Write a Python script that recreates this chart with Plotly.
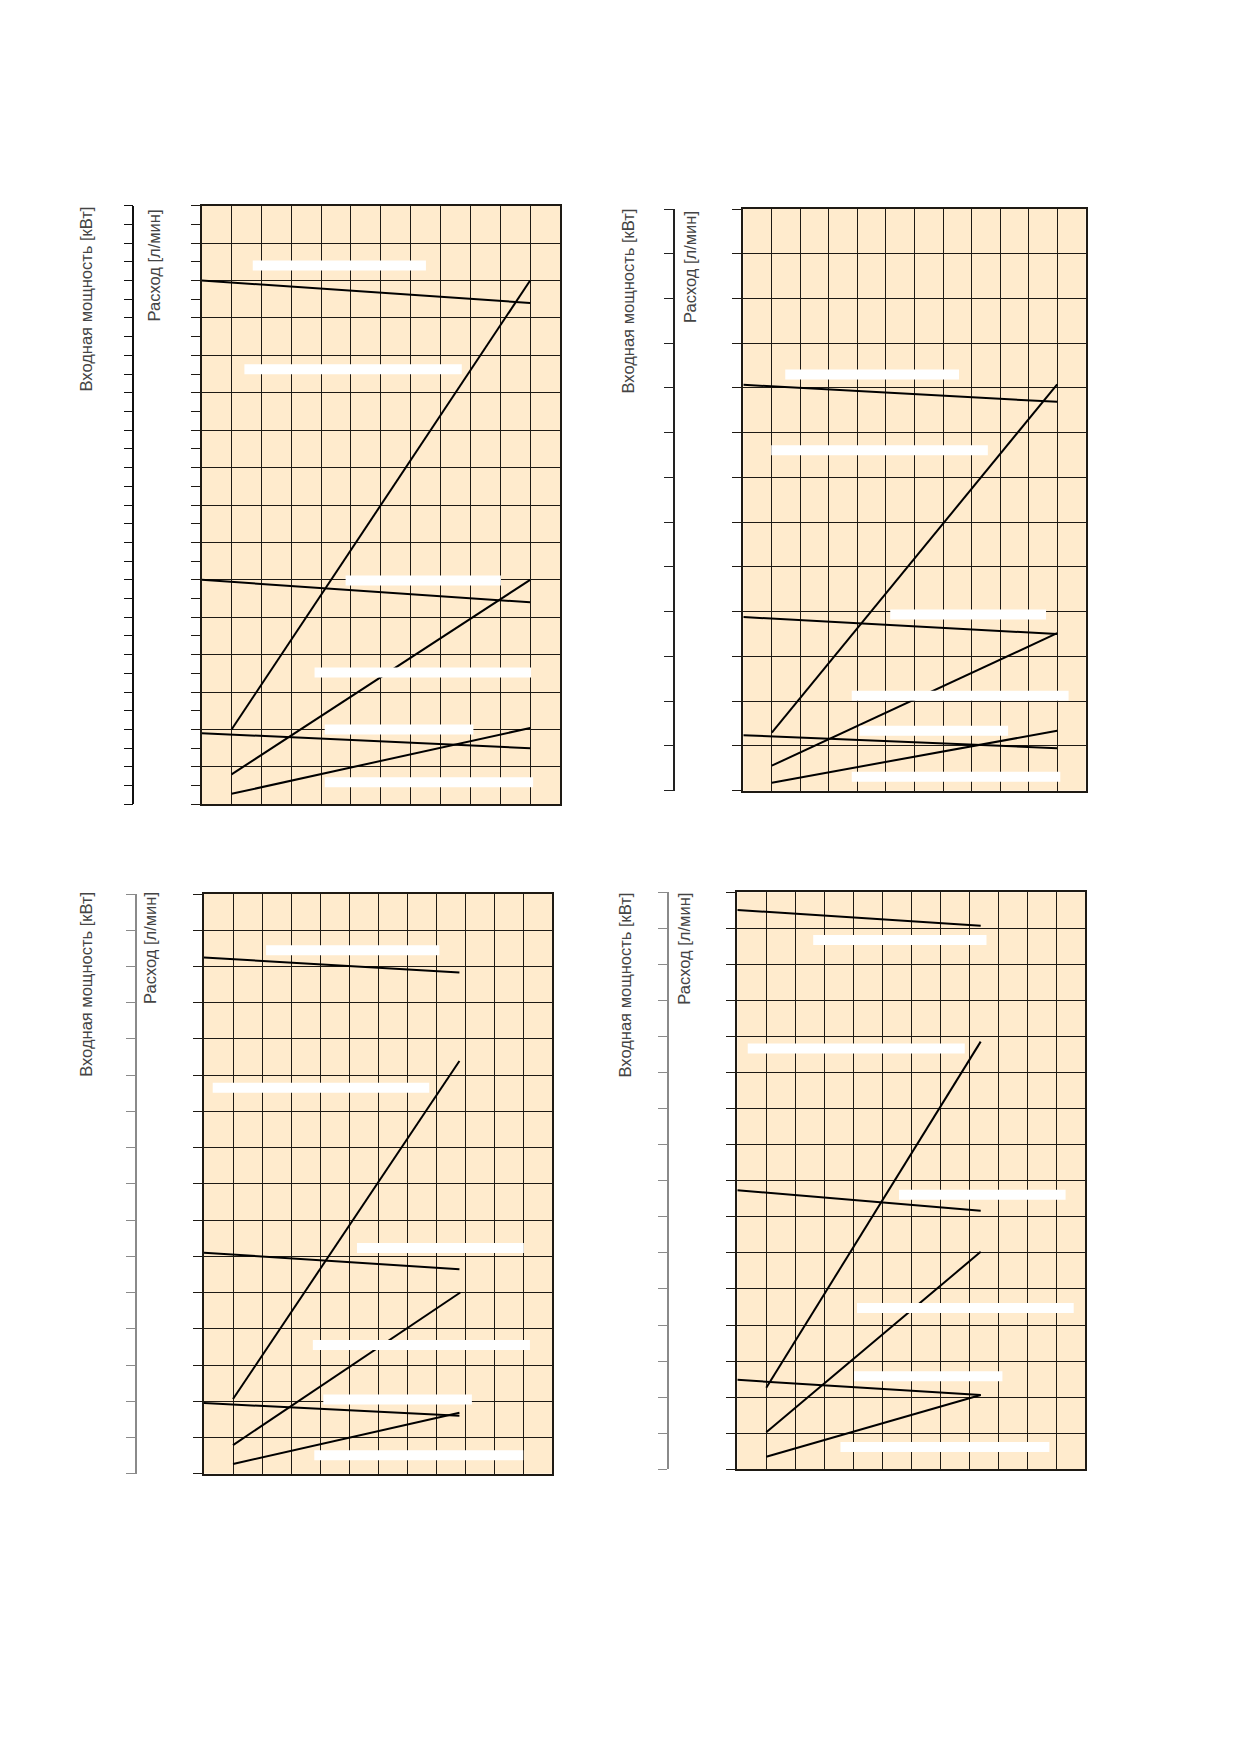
import plotly.graph_objects as go

# the page body keeps an 8px margin, so the figure is drawn 8px in from the window corner
OFF = 8
W, H = 1239 - 2 * OFF, 1752 - 2 * OFF

title_power = 'Входная мощность [кВт]'
title_flow = 'Расход [л/мин]'

# top left chart, grid 12 x 16
tl_x_start = [0, 1, 0, 1, 0, 1]
tl_y_start = [14.0, 2.0, 6.0, 0.8, 1.9, 0.28]
tl_x_end = [11, 11, 11, 11, 11, 11]
tl_y_end = [13.4, 14.0, 5.4, 6.0, 1.5, 2.04]
tl_mask_x0 = [1.71, 1.43, 4.82, 3.78, 4.12, 4.12]
tl_mask_x1 = [7.51, 8.71, 10.02, 11.03, 9.10, 11.1]
tl_mask_y = [14.4, 11.63, 5.98, 3.52, 2.0, 0.59]

# top right chart, grid 12 x 13
tr_x_start = [0, 1, 0, 1, 0, 1]
tr_y_start = [9.07, 1.3, 3.88, 0.56, 1.24, 0.18]
tr_x_end = [11, 11, 11, 11, 11, 11]
tr_y_end = [8.69, 9.08, 3.5, 3.52, 0.95, 1.34]
tr_mask_x0 = [1.47, 0.98, 5.15, 3.80, 4.07, 3.80]
tr_mask_x1 = [7.56, 8.57, 10.61, 11.40, 9.28, 11.11]
tr_mask_y = [9.30, 7.61, 3.94, 2.12, 1.34, 0.31]

# bottom left chart, grid 12 x 16
bl_x_start = [0, 1, 0, 1, 0, 1]
bl_y_start = [14.25, 2.06, 6.1, 0.79, 1.95, 0.27]
bl_x_end = [8.8, 8.8, 8.8, 8.83, 8.8, 8.8]
bl_y_end = [13.83, 11.39, 5.64, 5.0, 1.60, 1.68]
bl_mask_x0 = [2.14, 0.30, 5.27, 3.75, 4.11, 3.80]
bl_mask_x1 = [8.11, 7.76, 11.02, 11.23, 9.23, 11.0]
bl_mask_y = [14.45, 10.65, 6.23, 3.55, 2.05, 0.51]

# bottom right chart, grid 12 x 16
br_x_start = [0, 1, 0, 1, 0, 1]
br_y_start = [15.51, 2.26, 7.74, 1.03, 2.48, 0.35]
br_x_end = [8.4, 8.4, 8.4, 8.4, 8.4, 8.4]
br_y_end = [15.07, 11.86, 7.17, 6.03, 2.06, 2.06]
br_mask_x0 = [2.62, 0.36, 5.58, 4.13, 4.03, 3.56]
br_mask_x1 = [8.60, 7.85, 11.33, 11.61, 9.15, 10.77]
br_mask_y = [14.68, 11.67, 7.61, 4.47, 2.58, 0.62]

BG = '#FFEBCD'
GRID = '#1e1a14'
TEXT = '#444444'

# pixel boxes of the four charts in the window: left, right, top, bottom
panels = [
    dict(box=(201.7, 560, 205.7, 804.3), rows=16, outer=133.3, step=0.5, outer_col='#111111',
         tx=(85, 153.5), ty=(205, 208),
         data=(tl_x_start, tl_y_start, tl_x_end, tl_y_end, tl_mask_x0, tl_mask_x1, tl_mask_y)),
    dict(box=(743.3, 1085.7, 209, 790.7), rows=13, outer=674, step=1, outer_col='#222222',
         tx=(628.3, 690), ty=(206.7, 209),
         data=(tr_x_start, tr_y_start, tr_x_end, tr_y_end, tr_mask_x0, tr_mask_x1, tr_mask_y)),
    dict(box=(204, 552.3, 894, 1473.7), rows=16, outer=135.7, step=1, outer_col='#8a8a8a',
         tx=(85.3, 150), ty=(890, 890),
         data=(bl_x_start, bl_y_start, bl_x_end, bl_y_end, bl_mask_x0, bl_mask_x1, bl_mask_y)),
    dict(box=(737.3, 1085, 892.3, 1469.3), rows=16, outer=667.7, step=1, outer_col='#8a8a8a',
         tx=(625.3, 684), ty=(890.7, 890.7),
         data=(br_x_start, br_y_start, br_x_end, br_y_end, br_mask_x0, br_mask_x1, br_mask_y)),
]


def fx(px):
    return (px - OFF) / W


def fy(py):
    return 1 - (py - OFF) / H


def segments(x0, y0, x1, y1):
    xs, ys = [], []
    for a, b, c, d in zip(x0, y0, x1, y1):
        xs += [a, c, None]
        ys += [b, d, None]
    return xs, ys


fig = go.Figure()
layout = {}
annotations = []

for i, p in enumerate(panels):
    n = i + 1
    xid = 'x' if n == 1 else f'x{n}'
    yid = 'y' if n == 1 else f'y{2 * n - 1}'
    yid_outer = f'y{2 * n}'
    left, right, top, bottom = p['box']
    xs0, ys0, xs1, ys1, mx0, mx1, my = p['data']

    lx, ly = segments(xs0, ys0, xs1, ys1)
    fig.add_trace(go.Scatter(x=lx, y=ly, mode='lines', xaxis=xid, yaxis=yid,
                             line=dict(color='black', width=2), hoverinfo='skip', showlegend=False))
    # white label masks sit on the overlaid axis so they cover lines and grid
    wx, wy = segments(mx0, my, mx1, my)
    fig.add_trace(go.Scatter(x=wx, y=wy, mode='lines', xaxis=xid, yaxis=yid_outer,
                             line=dict(color='white', width=10), hoverinfo='skip', showlegend=False))

    layout['xaxis' if n == 1 else f'xaxis{n}'] = dict(
        domain=[fx(left), fx(right)], range=[0, 12], dtick=1, tick0=0,
        showgrid=True, gridcolor=GRID, gridwidth=1.2, zeroline=False,
        showline=True, linecolor=GRID, linewidth=2, mirror=True,
        ticks='', showticklabels=False, anchor=yid, fixedrange=True)

    yax = dict(
        domain=[fy(bottom), fy(top)], range=[0, p['rows']], dtick=1, tick0=0,
        showgrid=True, gridcolor=GRID, gridwidth=1.2, zeroline=False,
        showline=True, linecolor=GRID, linewidth=2, mirror=True,
        ticks='outside', ticklen=9, tickwidth=1.2, tickcolor=GRID,
        showticklabels=False, anchor=xid, fixedrange=True)
    if p['step'] < 1:
        yax['minor'] = dict(dtick=p['step'], ticks='outside', ticklen=9, tickwidth=1.2,
                            tickcolor=GRID, showgrid=False)
    layout['yaxis' if n == 1 else f'yaxis{2 * n - 1}'] = yax

    layout[f'yaxis{2 * n}'] = dict(
        overlaying=yid, anchor='free', position=fx(p['outer']), side='left',
        range=[0, p['rows']], dtick=p['step'], tick0=0, showgrid=False, zeroline=False,
        showline=True, linecolor=p['outer_col'], linewidth=1.5,
        ticks='outside', ticklen=9, tickwidth=1.2, tickcolor=p['outer_col'],
        showticklabels=False, fixedrange=True)

    for text, tx, ty in zip([title_power, title_flow], p['tx'], p['ty']):
        annotations.append(dict(text=text, x=fx(tx), y=fy(ty), xref='paper', yref='paper',
                                xanchor='center', yanchor='top', textangle=-90, showarrow=False,
                                font=dict(family='Liberation Sans, Arial', size=16.5, color=TEXT)))

fig.update_layout(**layout)
fig.update_layout(width=W, height=H, margin=dict(l=0, r=0, t=0, b=0),
                  paper_bgcolor='white', plot_bgcolor=BG,
                  annotations=annotations, showlegend=False)

fig.write_html('out.html')
